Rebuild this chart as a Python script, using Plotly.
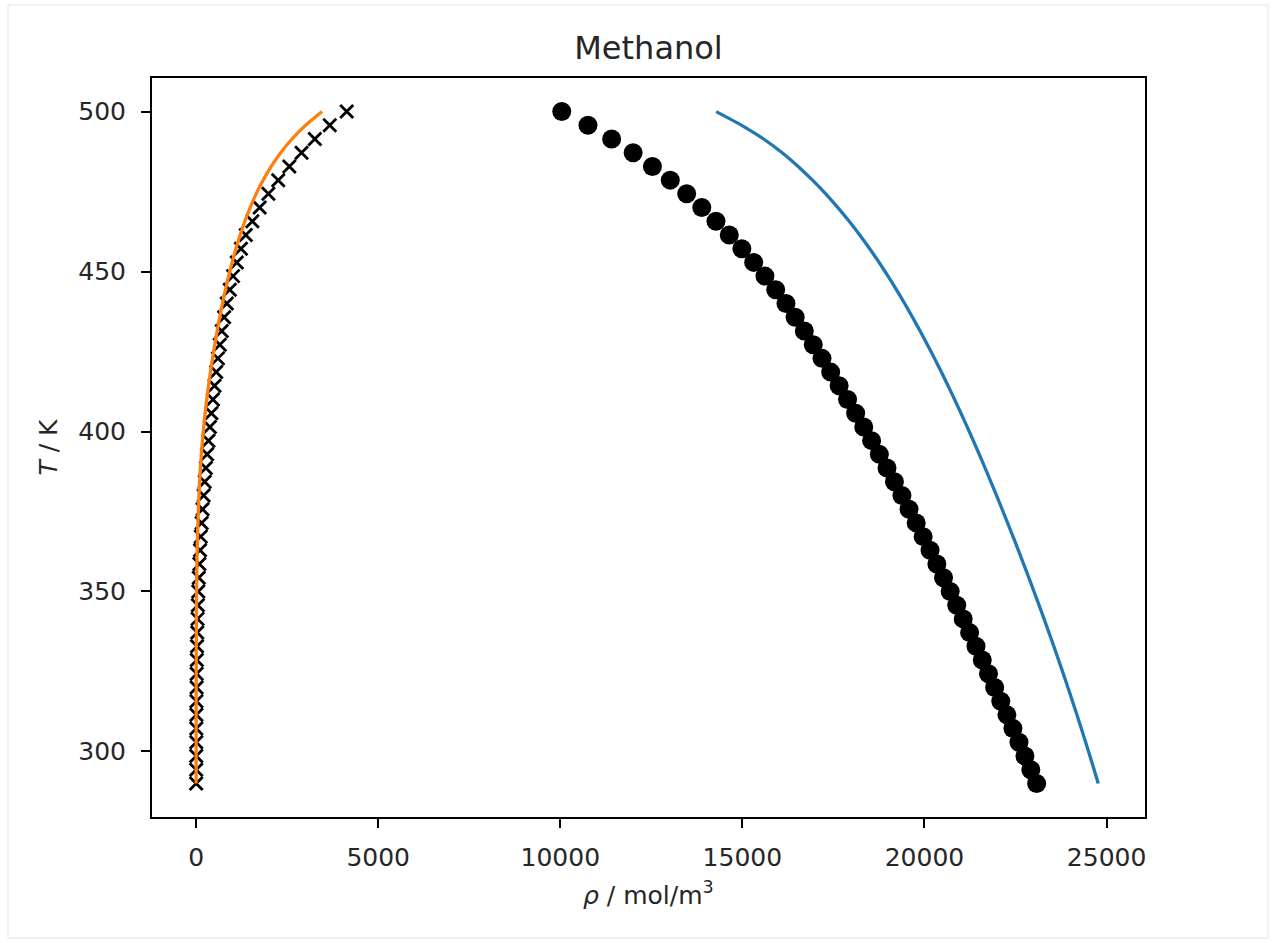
import plotly.graph_objects as go

# Saturation temperatures (K)
temperature_K = [290.00, 294.29, 298.57, 302.86, 307.14, 311.43, 315.71, 320.00, 324.29, 328.57,
                 332.86, 337.14, 341.43, 345.71, 350.00, 354.29, 358.57, 362.86, 367.14, 371.43,
                 375.71, 380.00, 384.29, 388.57, 392.86, 397.14, 401.43, 405.71, 410.00, 414.29,
                 418.57, 422.86, 427.14, 431.43, 435.71, 440.00, 444.29, 448.57, 452.86, 457.14,
                 461.43, 465.71, 470.00, 474.29, 478.57, 482.86, 487.14, 491.43, 495.71, 500.00]

# Liquid branch, markers (mol/m^3)
rho_liq_points = [23080, 22919, 22758, 22595, 22429, 22263, 22095, 21927, 21757, 21587,
                  21414, 21239, 21063, 20885, 20706, 20523, 20340, 20153, 19963, 19772,
                  19576, 19380, 19175, 18971, 18761, 18548, 18332, 18110, 17888, 17656,
                  17424, 17186, 16946, 16701, 16449, 16197, 15915, 15620, 15310, 14985,
                  14640, 14275, 13885, 13470, 13020, 12530, 12000, 11410, 10760, 10040]

# Vapour branch, markers (mol/m^3)
rho_vap_points = [2.0, 2.6, 3.5, 4.6, 6.0, 8.0, 10, 13, 16, 21,
                  26, 32, 40, 49, 60, 74, 90, 108, 129, 152,
                  178, 206, 236, 268, 303, 340, 379, 420, 462, 506,
                  552, 600, 650, 705, 770, 843, 925, 1015, 1117, 1232,
                  1365, 1545, 1745, 1985, 2255, 2560, 2895, 3260, 3670, 4135]

# Liquid branch, curve (mol/m^3)
rho_liq_curve = [24772, 24658, 24543, 24426, 24307, 24186, 24063, 23938, 23811, 23682,
                 23551, 23418, 23283, 23146, 23007, 22866, 22723, 22578, 22431, 22282,
                 22131, 21978, 21823, 21665, 21504, 21340, 21173, 21002, 20827, 20648,
                 20464, 20275, 20080, 19879, 19671, 19456, 19232, 18998, 18753, 18495,
                 18222, 17932, 17622, 17288, 16926, 16530, 16092, 15582, 14982, 14280]

# Vapour branch, curve (mol/m^3)
rho_vap_curve = [0.5, 0.65, 0.8, 1.0, 1.2, 1.5, 1.9, 2.4, 3.0, 3.8,
                 4.8, 6.1, 7.8, 10, 13, 17, 22.5, 29.5, 38, 49,
                 62, 78, 97, 119, 145, 175, 209, 248, 292, 341,
                 394, 452, 514, 579, 649, 724, 805, 893, 989, 1094,
                 1210, 1339, 1484, 1648, 1841, 2063, 2323, 2633, 3008, 3460]

x_ticks = [0, 5000, 10000, 15000, 20000, 25000]
x_tick_text = ["0", "5000", "10000", "15000", "20000", "25000"]
y_ticks = [300, 350, 400, 450, 500]
y_tick_text = ["300", "350", "400", "450", "500"]

FONT = "DejaVu Sans"
TEXT_COLOR = "#262626"

fig = go.Figure()

fig.add_trace(go.Scatter(
    x=rho_vap_points, y=temperature_K, mode="markers",
    marker=dict(symbol="x-thin", size=13, line=dict(color="black", width=2.8), color="black"),
    showlegend=False,
))
fig.add_trace(go.Scatter(
    x=rho_liq_points, y=temperature_K, mode="markers",
    marker=dict(symbol="circle", size=19, color="black", line=dict(width=0)),
    showlegend=False,
))
fig.add_trace(go.Scatter(
    x=rho_liq_curve, y=temperature_K, mode="lines",
    line=dict(color="#1f77b4", width=3.3, shape="spline", smoothing=0.6),
    showlegend=False,
))
fig.add_trace(go.Scatter(
    x=rho_vap_curve, y=temperature_K, mode="lines",
    line=dict(color="#ff7f0e", width=3.3, shape="spline", smoothing=0.6),
    showlegend=False,
))

axis_common = dict(
    showgrid=False, zeroline=False,
    showline=True, linecolor="black", linewidth=2, mirror=True,
    ticks="outside", ticklen=9, tickwidth=2, tickcolor="black",
    tickfont=dict(family=FONT, size=25, color=TEXT_COLOR),
)

fig.update_xaxes(range=[-1211, 26055], tickvals=x_ticks, ticktext=x_tick_text,
                 ticklabelstandoff=8, **axis_common)
fig.update_yaxes(range=[279.5, 510.5], tickvals=y_ticks, ticktext=y_tick_text,
                 ticklabelstandoff=10, **axis_common)

fig.update_layout(
    width=1275, height=943,
    margin=dict(l=152, r=130, t=78, b=126),
    paper_bgcolor="white", plot_bgcolor="white",
    font=dict(family=FONT, color=TEXT_COLOR),
    title=dict(text="Methanol", x=0.5, xref="paper", xanchor="center",
               y=1 - 48 / 943, yref="container", yanchor="middle",
               font=dict(family=FONT, size=32, color=TEXT_COLOR)),
    annotations=[
        dict(text="<i>ρ</i> / mol/m<sup>3</sup>", xref="paper", yref="paper",
             x=0.5, y=(817 - 893) / 739, xanchor="center", yanchor="middle",
             showarrow=False, font=dict(family=FONT, size=25, color=TEXT_COLOR)),
        dict(text="<i>T</i> / K", xref="paper", yref="paper",
             x=(48 - 152) / 993, y=0.5, xanchor="center", yanchor="middle",
             textangle=-90, showarrow=False,
             font=dict(family=FONT, size=25, color=TEXT_COLOR)),
    ],
    shapes=[
        dict(type="rect", xref="paper", yref="paper",
             x0=(8 - 152) / 993, x1=(1268 - 152) / 993,
             y0=(817 - 938) / 739, y1=(817 - 5) / 739,
             line=dict(color="#e4e4e4", width=1), fillcolor="rgba(0,0,0,0)", layer="below"),
    ],
)

fig.write_html("out.html")
